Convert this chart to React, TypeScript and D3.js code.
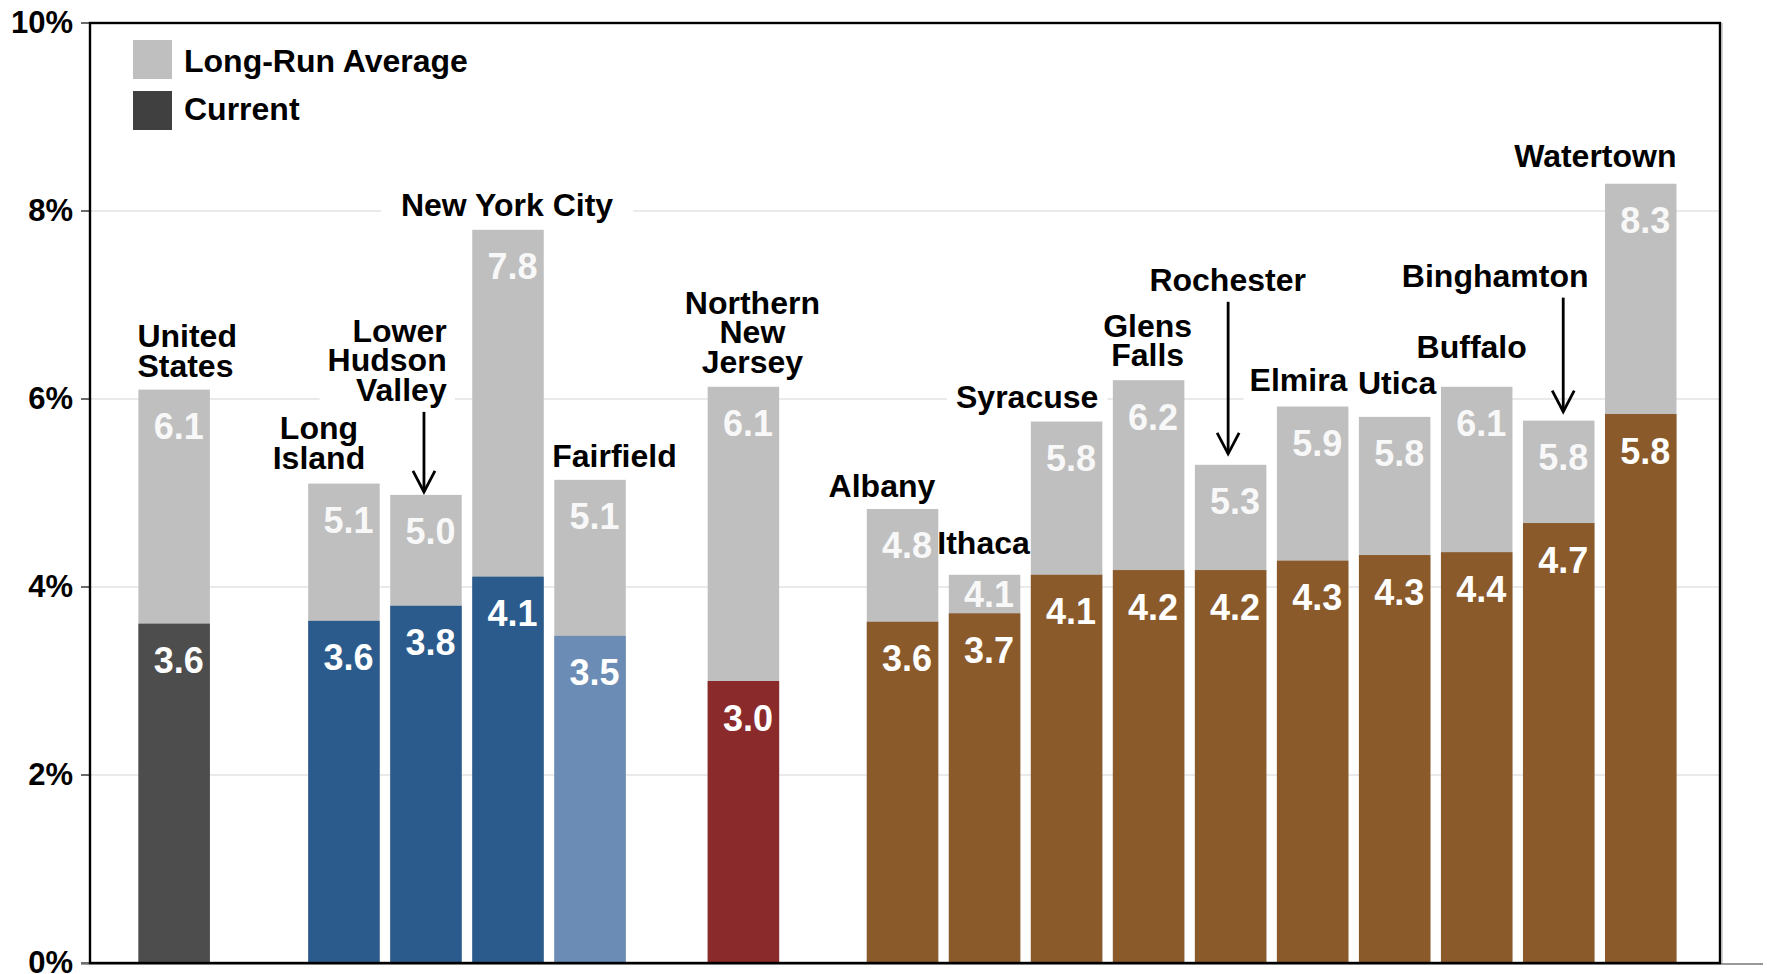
import React, { useLayoutEffect, useRef, useState } from "react";
import * as d3 from "d3";

// ---------- data ----------
const categories = [
  "United States",
  "Long Island",
  "Lower Hudson Valley",
  "New York City",
  "Fairfield",
  "Northern New Jersey",
  "Albany",
  "Ithaca",
  "Syracuse",
  "Glens Falls",
  "Rochester",
  "Elmira",
  "Utica",
  "Buffalo",
  "Binghamton",
  "Watertown",
];
const longRunAverage = [6.1, 5.1, 4.98, 7.8, 5.14, 6.13, 4.83, 4.13, 5.76, 6.2, 5.3, 5.92, 5.81, 6.13, 5.77, 8.29];
const currentRate = [3.61, 3.64, 3.8, 4.11, 3.48, 3.0, 3.63, 3.72, 4.13, 4.18, 4.18, 4.28, 4.34, 4.37, 4.68, 5.84];
const regionGroup = ["US", "Metro", "Metro", "Metro", "Metro", "NJ", "Upstate", "Upstate", "Upstate", "Upstate", "Upstate", "Upstate", "Upstate", "Upstate", "Upstate", "Upstate"];
const colorGroup = ["us", "ny", "ny", "ny", "ct", "nj", "up", "up", "up", "up", "up", "up", "up", "up", "up", "up"];
const yTicks = [0, 2, 4, 6, 8, 10];
const legendItems = ["Long-Run Average", "Current"];

// ---------- styles / layout ----------
const W = 1767;
const H = 974;
const FONT = "'Liberation Sans', Arial, Helvetica, sans-serif";
const COLORS: Record<string, string> = {
  us: "#4d4d4d",
  ny: "#2b5b8c",
  ct: "#6b8db5",
  nj: "#8b2a2b",
  up: "#8b5a2b",
  lr: "#bfbfbf",
  legendCurrent: "#404040",
  grid: "#e3e3e3",
};
const M = { left: 90, right: 1720, top: 23, bottom: 963 };

// extra empty space (in bar steps) inserted before a region starts
const REGION_GAP: Record<string, number> = { Metro: 1.07, NJ: 0.87, Upstate: 0.94 };
const BAR_W = 71.5;

type Layout = {
  lines: string[];
  anchor: "start" | "middle" | "end";
  ref: "left" | "center" | "right";
  dx: number;
  dy: number;
  pad?: number;
  arrow?: { dx: number; endGap: number };
};
const labelLayout: Record<string, Layout> = {
  "United States": { lines: ["United", "States"], anchor: "start", ref: "left", dx: -1, dy: -13 },
  "Long Island": { lines: ["Long", "Island"], anchor: "middle", ref: "center", dx: -25, dy: -15 },
  "Lower Hudson Valley": { lines: ["Lower", "Hudson", "Valley"], anchor: "end", ref: "right", dx: -15, dy: -94, pad: 8, arrow: { dx: -2, endGap: 3 } },
  "New York City": { lines: ["New York City"], anchor: "middle", ref: "center", dx: -1, dy: -14, pad: 20 },
  Fairfield: { lines: ["Fairfield"], anchor: "start", ref: "left", dx: -2, dy: -13 },
  "Northern New Jersey": { lines: ["Northern", "New", "Jersey"], anchor: "middle", ref: "center", dx: 9, dy: -14 },
  Albany: { lines: ["Albany"], anchor: "end", ref: "right", dx: -3, dy: -12 },
  Ithaca: { lines: ["Ithaca"], anchor: "middle", ref: "center", dx: -1, dy: -21 },
  Syracuse: { lines: ["Syracuse"], anchor: "end", ref: "right", dx: -4, dy: -14, pad: 9 },
  "Glens Falls": { lines: ["Glens", "Falls"], anchor: "middle", ref: "center", dx: -1, dy: -14 },
  Rochester: { lines: ["Rochester"], anchor: "middle", ref: "center", dx: -3, dy: -174, arrow: { dx: -2.5, endGap: 11 } },
  Elmira: { lines: ["Elmira"], anchor: "end", ref: "right", dx: -1, dy: -16 },
  Utica: { lines: ["Utica"], anchor: "start", ref: "left", dx: -1, dy: -23 },
  Buffalo: { lines: ["Buffalo"], anchor: "middle", ref: "center", dx: -5, dy: -29 },
  Binghamton: { lines: ["Binghamton"], anchor: "end", ref: "right", dx: -6, dy: -134, arrow: { dx: 4.5, endGap: 9 } },
  Watertown: { lines: ["Watertown"], anchor: "end", ref: "right", dx: 0, dy: -17 },
};

// slot positions: one step per bar plus region gaps
const slotPos: number[] = [];
categories.forEach((c, i) => {
  if (i === 0) slotPos.push(0);
  else {
    const gap = regionGroup[i] !== regionGroup[i - 1] ? REGION_GAP[regionGroup[i]] ?? 1 : 0;
    slotPos.push(slotPos[i - 1] + 1 + gap);
  }
});
const lastSlot = slotPos[slotPos.length - 1];
const xSlot = d3.scaleLinear().domain([0, lastSlot]).range([138.4, 1605]);
const x = (c: string) => xSlot(slotPos[categories.indexOf(c)]);
const y = d3.scaleLinear().domain([0, 10]).range([M.bottom, M.top]);
const fmt = d3.format(".1f");

const CAT_FS = 32;
const LINE_H = 29.5;
const VAL_FS = 36;

type Box = { x: number; y: number; w: number; h: number } | null;

export default function App() {
  const textRefs = useRef<(SVGTextElement | null)[]>([]);
  const [boxes, setBoxes] = useState<Box[]>([]);

  useLayoutEffect(() => {
    const measure = () =>
      setBoxes(
        textRefs.current.map((t) => {
          if (!t) return null;
          const b = t.getBBox();
          return { x: b.x, y: b.y, w: b.width, h: b.height };
        })
      );
    measure();
    if ((document as any).fonts && (document as any).fonts.ready) {
      (document as any).fonts.ready.then(measure);
    }
  }, []);

  const bw = BAR_W;

  const labelInfo = categories.map((c, i) => {
    const L = labelLayout[c];
    const bx = x(c);
    const refX = L.ref === "left" ? bx : L.ref === "right" ? bx + bw : bx + bw / 2;
    const tx = refX + L.dx;
    const topY = y(longRunAverage[i]);
    const lastBase = topY + L.dy;
    const firstBase = lastBase - (L.lines.length - 1) * LINE_H;
    return { c, i, L, tx, firstBase, lastBase, topY, bx };
  });

  return (
    <svg
      width={W}
      height={H}
      viewBox={`0 0 ${W} ${H}`}
      style={{ position: "absolute", left: 0, top: 0, background: "#fff" }}
      fontFamily={FONT}
      fontWeight="bold"
    >
      <rect x={0} y={0} width={W} height={H} fill="#fff" />

      {/* gridlines */}
      {yTicks
        .filter((t) => t > 0 && t < 10)
        .map((t) => (
          <line key={`g${t}`} x1={M.left} x2={M.right} y1={y(t)} y2={y(t)} stroke={COLORS.grid} strokeWidth={1.6} />
        ))}

      {/* label backgrounds */}
      {labelInfo.map((li, k) => {
        const b = boxes[k];
        if (!b) return null;
        const pad = li.L.pad ?? 6;
        return <rect key={`bg${k}`} x={b.x - pad} y={b.y - 2} width={b.w + 2 * pad} height={b.h + 8} fill="#fff" />;
      })}

      {/* bars */}
      {categories.map((c, i) => {
        const bx = x(c);
        return (
          <g key={`bar${i}`}>
            <rect x={bx} y={y(longRunAverage[i])} width={bw} height={M.bottom - y(longRunAverage[i])} fill={COLORS.lr} />
            <rect x={bx} y={y(currentRate[i])} width={bw} height={M.bottom - y(currentRate[i])} fill={COLORS[colorGroup[i]]} />
          </g>
        );
      })}

      {/* category labels */}
      {labelInfo.map((li, k) => (
        <text
          key={`lab${k}`}
          ref={(el) => {
            textRefs.current[k] = el;
          }}
          x={li.tx}
          y={li.firstBase}
          textAnchor={li.L.anchor}
          fontSize={CAT_FS}
          fill="#000"
        >
          {li.L.lines.map((ln, j) => (
            <tspan key={j} x={li.tx} y={li.firstBase + j * LINE_H}>
              {ln}
            </tspan>
          ))}
        </text>
      ))}

      {/* arrows */}
      {labelInfo
        .filter((li) => li.L.arrow)
        .map((li) => {
          const a = li.L.arrow!;
          const ax = li.bx + bw / 2 + a.dx;
          const y1 = li.lastBase + 11;
          const y2 = li.topY - a.endGap;
          return (
            <g key={`arr${li.i}`} stroke="#000" strokeWidth={2.8} fill="none">
              <line x1={ax} x2={ax} y1={y1} y2={y2} />
              <path d={`M${ax - 11},${y2 - 21} L${ax},${y2} L${ax + 11},${y2 - 21}`} strokeLinejoin="miter" />
            </g>
          );
        })}

      {/* value labels */}
      {categories.map((c, i) => {
        const cx = x(c) + bw / 2 + 4.5;
        const yl = y(longRunAverage[i]);
        const yc = y(currentRate[i]);
        const lrBase = Math.min(yl + 49.5, yc - 6);
        return (
          <g key={`val${i}`} fontSize={VAL_FS} textAnchor="middle">
            <text x={cx} y={lrBase} fill="#f8f8f8">
              {fmt(longRunAverage[i])}
            </text>
            <text x={cx} y={yc + 49.5} fill="#ffffff">
              {fmt(currentRate[i])}
            </text>
          </g>
        );
      })}

      {/* legend */}
      {legendItems.map((name, i) => (
        <g key={`leg${i}`}>
          <rect x={133} y={40 + i * 51} width={39} height={39} fill={i === 0 ? COLORS.lr : COLORS.legendCurrent} />
          <text x={184} y={71.7 + i * 48.3} fontSize={32} fill="#000">
            {name}
          </text>
        </g>
      ))}

      {/* axis: ticks and labels */}
      {yTicks.map((t) => (
        <g key={`t${t}`}>
          <line x1={81} x2={M.left} y1={y(t)} y2={y(t)} stroke="#444" strokeWidth={1.6} />
          <text x={73} y={y(t) + 9.5} textAnchor="end" fontSize={31} fill="#000">
            {`${t}%`}
          </text>
        </g>
      ))}

      {/* frame */}
      <line x1={81} x2={1763} y1={M.bottom + 1} y2={M.bottom + 1} stroke="#777" strokeWidth={1.5} />
      <line x1={M.right + 2.2} x2={M.right + 2.2} y1={M.top} y2={M.bottom} stroke="#c8c8c8" strokeWidth={1.2} />
      <rect x={M.left} y={M.top} width={M.right - M.left} height={M.bottom - M.top} fill="none" stroke="#000" strokeWidth={2.4} />
    </svg>
  );
}
